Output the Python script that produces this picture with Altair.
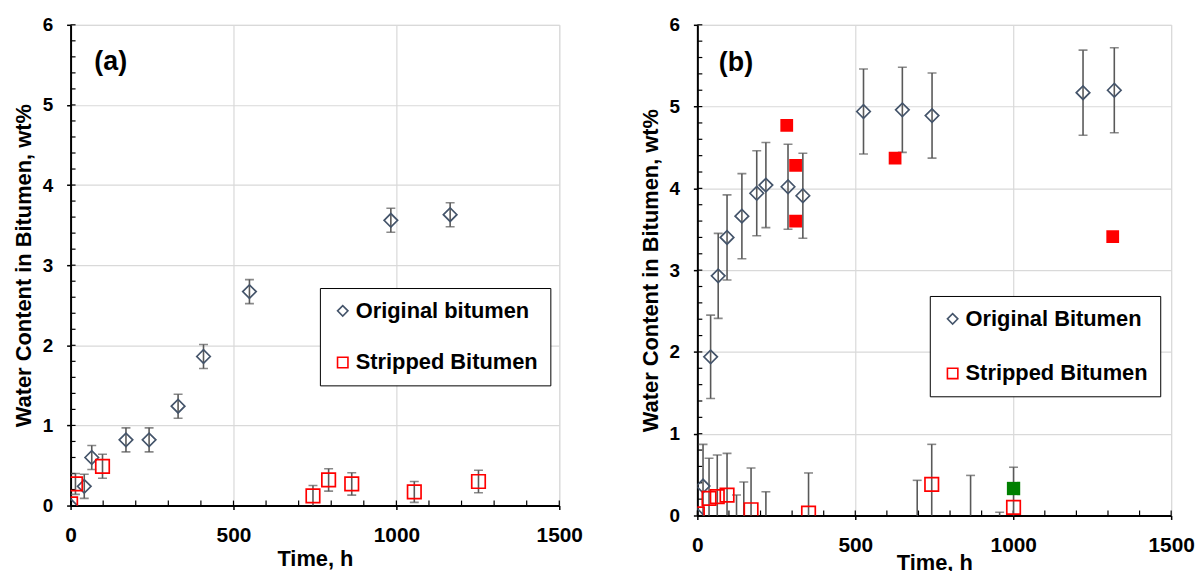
import altair as alt
import pandas as pd

# ---------------- data ----------------
# Panel (a)
a_orig_t = [0, 42, 65, 170, 241, 330, 408, 549, 983, 1165]
a_orig_w = [0.00, 0.24, 0.60, 0.82, 0.82, 1.24, 1.86, 2.67, 3.56, 3.63]
a_orig_e = [0.00, 0.15, 0.15, 0.15, 0.15, 0.15, 0.15, 0.15, 0.15, 0.15]
a_strip_t = [0, 15, 98, 744, 792, 863, 1055, 1252]
a_strip_w = [0.02, 0.27, 0.49, 0.12, 0.32, 0.27, 0.17, 0.30]
a_strip_e = [0.00, 0.13, 0.15, 0.13, 0.14, 0.14, 0.13, 0.14]
a_names = ["Original bitumen", "Stripped Bitumen"]

# Panel (b)
b_orig_t = [0, 18, 42, 66, 94, 141, 188, 217, 287, 334, 526, 649, 743, 1221, 1320,
            124, 147, 217, 696, 865, 957]
b_orig_w = [0.00, 0.36, 1.94, 2.93, 3.40, 3.66, 3.94, 4.04, 4.02, 3.91, 4.94, 4.96, 4.89, 5.17, 5.20,
            -0.27, -0.11, -0.23, -0.09, -0.10, -0.48]
b_orig_e = [0.00, 0.51, 0.51, 0.52, 0.52, 0.52, 0.52, 0.52, 0.52, 0.52, 0.52, 0.52, 0.52, 0.52, 0.52,
            0.52, 0.52, 0.52, 0.52, 0.59, 0.52]
b_strip_t = [0, 37, 63, 94, 170, 352, 742, 1001]
b_strip_w = [0.02, 0.21, 0.23, 0.25, 0.07, 0.03, 0.38, 0.10]
b_strip_e = [0.00, 0.49, 0.51, 0.51, 0.51, 0.49, 0.49, 0.49]
b_names = ["Original Bitumen", "Stripped Bitumen"]
b_fill_t = [283, 311, 311, 626, 1315]
b_fill_w = [4.77, 4.28, 3.60, 4.37, 3.41]
b_green_t = [1001]
b_green_w = [0.33]

x_ticks = [0, 500, 1000, 1500]
y_ticks = [0, 1, 2, 3, 4, 5, 6]
x_title = "Time, h"
y_title = "Water Content in Bitumen, wt%"

FONT = "Liberation Sans"
ORIG_COLOR = "#44546A"
STRIP_COLOR = "#FF0000"
BAR_COLOR = "#595959"


def series_df(t, w, e, name):
    df = pd.DataFrame({"t": t, "w": w, "e": e})
    df["series"] = name
    df["lo"] = df["w"] - df["e"]
    df["hi"] = df["w"] + df["e"]
    return df


def panel(label, lab_t, lab_w, orig, strip, names, width, height, leg_x, leg_y,
          row_pad, title_pad_x, extra=None):
    pts = pd.concat([series_df(*orig, names[0]), series_df(*strip, names[1])],
                    ignore_index=True)
    bars = pts[pts["e"] > 0]

    xscale = alt.Scale(domain=[0, 1500], nice=False, zero=False)
    yscale = alt.Scale(domain=[0, 6], nice=False, zero=False)
    xaxis = alt.Axis(values=x_ticks, format="d", title=x_title, grid=True,
                     gridColor="#d9d9d9", gridWidth=1.2, domainColor="black",
                     domainWidth=2, tickColor="black", tickSize=4, tickWidth=1.5,
                     labelFont=FONT, labelFontSize=21, labelFontWeight="bold",
                     labelColor="black", labelPadding=15, labelFlush=False,
                     titleFont=FONT, titleFontSize=22, titleFontWeight="bold",
                     titleColor="black", titlePadding=title_pad_x)
    yaxis = alt.Axis(values=y_ticks, format="d", title=y_title, grid=True,
                     gridColor="#d9d9d9", gridWidth=1.2, domainColor="black",
                     domainWidth=2, tickColor="black", tickSize=4, tickWidth=1.5,
                     labelFont=FONT, labelFontSize=19, labelFontWeight="bold",
                     labelColor="black", labelPadding=14, labelFlush=False,
                     titleFont=FONT, titleFontSize=22, titleFontWeight="bold",
                     titleColor="black", titlePadding=7)

    def X(f):
        return alt.X(f + ":Q", scale=xscale, axis=xaxis)

    def Y(f):
        return alt.Y(f + ":Q", scale=yscale, axis=yaxis)

    minor_y = alt.Chart(alt.sequence(0, 6.01, 0.2, as_="v")).mark_rule(
        color="black", strokeWidth=1.2).encode(
        y=Y("v"), x=alt.value(0), x2=alt.value(5))
    minor_x = alt.Chart(alt.sequence(0, 1501, 100, as_="v")).mark_rule(
        color="black", strokeWidth=1.2).encode(
        x=X("v"), y=alt.value(height), y2=alt.value(height - 5))

    bar_base = alt.Chart(bars)
    err = bar_base.mark_rule(color=BAR_COLOR, strokeWidth=1.6, clip=True).encode(
        x=X("t"), y=Y("lo"), y2="hi")
    cap_lo = bar_base.mark_tick(color=BAR_COLOR, orient="horizontal", size=9,
                                thickness=1.6, clip=True).encode(x=X("t"), y=Y("lo"))
    cap_hi = bar_base.mark_tick(color=BAR_COLOR, orient="horizontal", size=9,
                                thickness=1.6, clip=True).encode(x=X("t"), y=Y("hi"))

    leg = alt.Legend(orient="none", legendX=leg_x, legendY=leg_y, title=None,
                     strokeColor="black", fillColor="white", padding=12,
                     labelFont=FONT, labelFontSize=22, labelFontWeight="bold",
                     labelColor="black", labelLimit=400, labelOffset=2,
                     symbolSize=110, symbolStrokeWidth=1.6, rowPadding=row_pad,
                     cornerRadius=0)
    points = alt.Chart(pts).mark_point(filled=False, strokeWidth=1.7, size=185,
                                       clip=True, opacity=1).encode(
        x=X("t"), y=Y("w"),
        shape=alt.Shape("series:N", scale=alt.Scale(domain=names,
                                                    range=["diamond", "square"]),
                        legend=leg),
        stroke=alt.Stroke("series:N", scale=alt.Scale(domain=names,
                                                      range=[ORIG_COLOR, STRIP_COLOR]),
                          legend=leg),
    )

    lab = alt.Chart(pd.DataFrame({"tx": [lab_t], "ty": [lab_w], "txt": [label]})).mark_text(
        align="left", baseline="middle", font=FONT, fontSize=27, fontWeight="bold",
        color="black").encode(x=X("tx"), y=Y("ty"), text="txt:N")

    layers = [minor_y, minor_x, err, cap_lo, cap_hi]
    if extra is not None:
        layers += extra(X, Y)
    layers += [points, lab]
    return alt.layer(*layers).properties(width=width, height=height)


def b_extra(X, Y):
    fill = alt.Chart(pd.DataFrame({"t": b_fill_t, "w": b_fill_w})).mark_square(
        color=STRIP_COLOR, size=165, opacity=1, clip=True).encode(x=X("t"), y=Y("w"))
    green = alt.Chart(pd.DataFrame({"t": b_green_t, "w": b_green_w})).mark_square(
        color="#008000", size=180, opacity=1, clip=True).encode(x=X("t"), y=Y("w"))
    return [fill, green]


pa = panel("(a)", 73, 5.54, (a_orig_t, a_orig_w, a_orig_e),
           (a_strip_t, a_strip_w, a_strip_e), a_names, 492, 484, 251, 265, 30, 3)
pb = panel("(b)", 68, 5.53, (b_orig_t, b_orig_w, b_orig_e),
           (b_strip_t, b_strip_w, b_strip_e), b_names, 477, 494, 234, 273, 33, -3,
           extra=b_extra)

chart = alt.hconcat(pa, pb, spacing=55).resolve_scale(
    shape="independent", stroke="independent",
    x="independent", y="independent"
).resolve_legend(shape="independent", stroke="independent"
).properties(padding={"left": 3, "top": 5, "right": 0, "bottom": 0}
).configure_view(stroke="black", strokeWidth=1.5
).configure(background="white")

chart.save("out.html", embed_options={"renderer": "svg", "actions": False})
